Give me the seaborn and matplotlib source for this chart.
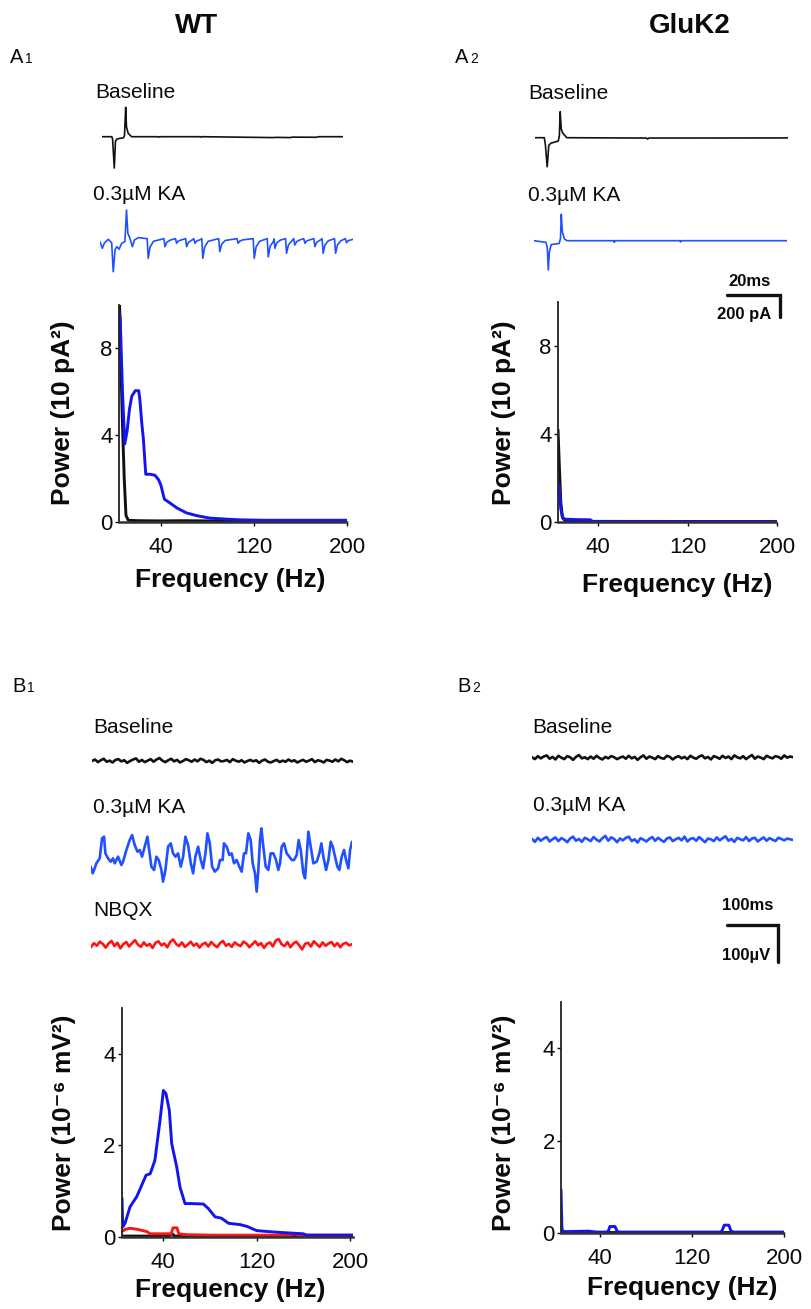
import numpy as np
import matplotlib
matplotlib.use("Agg")
import matplotlib.pyplot as plt
import seaborn as sns

# ---------------------------------------------------------------- data
# A: whole-cell currents (time in ms, current in pA)
a1_base_t = [0, 3.8, 4.1, 4.75, 5.2, 5.8, 8.2, 8.6, 9.05, 9.35, 10.0, 11.3, 21.2, 21.6, 22.0,
             37.0, 37.4, 37.8, 64.6, 66.0, 71.0, 72.0, 81.0, 82.0, 91.0]
a1_base_v = [0, 0, -20, -285, -40, -20, -10, 10, 267, 90, 30, 0, 0, -4, 0,
             0, -4, 0, -8, -6, -8, -4, -5, 0, 0]

a1_ka_t = [0, 0.9, 1.6, 3.1, 4.4, 5.0, 5.7, 6.4, 7.2, 8.2, 9.4, 10.0, 10.5, 11.3, 12.2, 13.0, 14.5,
           17.8, 18.2, 18.9, 20.2,
           24.1, 24.5, 25.2, 26.5,
           28.5, 28.9, 29.6, 30.9,
           32.3, 32.7, 33.4, 34.7,
           35.4, 35.8, 36.5, 37.8,
           38.4, 38.8, 39.5, 40.8,
           44.8, 45.2, 45.9, 47.2,
           51.7, 52.1, 52.8, 54.1,
           57.8, 58.2, 58.9, 60.2,
           63.1, 63.5, 64.2, 65.5,
           65.7, 66.0, 66.7, 68.0,
           70.0, 70.4, 71.1, 72.4,
           73.1, 73.5, 74.2, 75.5,
           76.9, 77.3, 78.0, 79.3,
           80.7, 81.1, 81.8, 83.1,
           83.8, 84.2, 84.9, 86.2,
           88.5, 88.9, 89.6, 90.9,
           92.6, 93.0, 93.7, 95.5]
a1_ka_v = [-22, -82, -36, 0, -31, -295, -91, -67, -91, -36, -21, 266, 55, 9, -67, -6, 15,
           6, -173, -70, -18,
           6, -67, -27, -7,
           6, -36, -15, -4,
           6, -67, -27, -7,
           6, -36, -15, -4,
           6, -173, -70, -18,
           6, -112, -45, -11,
           6, -36, -15, -4,
           6, -173, -70, -18,
           6, -160, -64, -16,
           4, -82, -33, -8,
           6, -127, -51, -13,
           6, -52, -21, -5,
           6, -36, -15, -4,
           6, -67, -27, -7,
           6, -127, -51, -13,
           6, -127, -51, -13,
           6, -31, -12, 0]

a2_base_t = [0, 3.5, 3.9, 4.6, 5.2, 6.0, 8.8, 9.2, 9.5, 9.9, 10.5, 12.0, 30, 42, 42.5, 43, 60, 95.5]
a2_base_v = [0, 0, -60, -264, -70, -50, -30, 20, 236, 80, 40, 0, -2, -3, -12, -3, -3, -2]

a2_ka_t = [0, 4.5, 5.0, 5.4, 5.8, 6.5, 9.5, 10.0, 10.3, 10.7, 11.5, 12.5,
           30, 30.3, 30.6, 55, 55.3, 55.6, 80, 95.5]
a2_ka_v = [0, -15, -60, -266, -100, -35, -25, 20, 240, 80, 15, 0,
           0, -15, 0, 0, -12, 0, 0, 0]

# A: power spectra (Hz, 10 pA^2)
a1_base_f = [4.5, 5.5, 7, 8.5, 10, 12, 20, 40, 60, 80, 100, 200]
a1_base_p = [10, 7.5, 4.5, 2.0, 0.3, 0.08, 0.06, 0.05, 0.06, 0.05, 0.04, 0.03]
a1_ka_f = [4.5, 5, 7, 9, 11, 13, 15, 18, 21, 22, 23.5, 25, 27, 31, 35, 38, 40, 43, 48, 54,
           62, 71, 82, 97, 108, 130, 160, 200]
a1_ka_p = [9.6, 9.4, 6.0, 3.6, 4.2, 5.2, 5.8, 6.05, 6.05, 5.6, 4.6, 3.8, 2.2, 2.2, 2.15, 1.95,
           1.7, 1.05, 0.87, 0.64, 0.42, 0.29, 0.18, 0.13, 0.1, 0.08, 0.08, 0.08]
a2_base_f = [4, 5, 6.5, 8, 10, 20, 200]
a2_base_p = [4.2, 2.8, 0.9, 0.2, 0.08, 0.03, 0.02]
a2_ka_f = [4, 5, 6.5, 8, 10, 20, 33, 35, 50, 100, 200]
a2_ka_p = [1.8, 1.6, 0.6, 0.22, 0.13, 0.11, 0.1, 0.02, 0.01, 0.01, 0.01]

# B: field potentials (time in ms, voltage in uV)
b1_ka_t = [0, 3.9, 7.8, 11.1, 17.7, 22.2, 26.2, 28.8, 34.0, 39.2, 43.8, 47.1, 53.6, 60.2, 63.4,
           70.0, 76.5, 81.1, 86.3, 91.6, 96.1, 100.7, 105.9, 111.2, 113.8, 119.0, 124.3, 128.8,
           133.4, 138.6, 141.9, 146.5, 151.7, 157.0, 161.5, 166.1, 171.3, 176.6, 181.2, 185.7,
           191.0, 196.2, 200.8, 205.3, 210.6, 215.8, 220.4, 225.0, 228.9, 233.5, 238.1, 243.3,
           249.8, 253.5, 258.7, 261.3, 266.6, 271.8, 276.4, 281.0, 286.2, 291.4, 296.0, 300.6,
           304.5, 309.1, 313.7, 317.6, 322.2, 325.4, 328.7, 332.0, 334.6, 338.5, 343.1, 348.3,
           352.9, 358.1, 363.4, 367.9, 371.2, 374.5, 379.1, 384.3, 389.5, 394.1, 398.7, 403.9,
           407.8, 411.8, 417.0, 420.3, 423.5, 426.8, 431.4, 436.6, 443.2, 448.4, 452.3, 456.2,
           461.5, 466.1, 470.6, 474.6, 479.1, 483.7, 487.6, 492.2, 496.8, 500.7, 505.3, 508.6,
           512.5]
b1_ka_v = [-18, -36, -22.5, -9, 4.5, 58.5, 63, 18, 4.5, -4.5, 4.5, -9, 9, -13.5, -4.5,
           27, 54, 67.5, 40.5, 22.5, 27, 9, 36, 63, 36, -18, -27, 9,
           0, -27, -58.5, -27, 36, 45, 18, 9, 18, -18, 9, 63,
           40.5, -9, -36, 9, 36, 0, -22.5, 18, 72, 45, -18, -31.5,
           -22.5, 0, 0, 45, 36, 13.5, 18, -9, 0, -18, -31.5, 18,
           18, 72, 54, -9, -36, -85.5, -27, 54, 85.5, 36, -18, -27,
           18, 18, 0, -27, -9, 36, 45, 18, 9, 0, 0, 13.5,
           54, 27, -36, -49.5, 9, 76.5, 36, -9, -4.5, 18, 45, 9,
           -27, 0, 49.5, 36, 9, -18, -27, 9, 27, 0, -22.5, 27,
           49.5]

b_step = 5.75  # ms between samples of the noise traces
b1_base_v = [0, 4, -3, 2, 6, -2, 1, -4, 3, 5, -1, 2, -5, 0, 4, 7, -2, 3, -3, 1, 5, -2, 4, 8, 1,
             -3, 2, 6, -1, 3, -4, 0, 5, 2, -2, 4, -1, 6, 3, -3, 1, -5, 2, 4, -1, 0, 3, -3, 5, 1,
             -2, 2, -4, 0, 3, -1, 2, -5, 1, 4, -2, -4, 0, 3, -3, 1, -2, 4, -1, 2, -4, 0, 3, -2,
             1, 5, -3, 2, 0, -4, 3, 1, -2, 4, -1, 6, 2, -3, 1, -2]
b1_nbqx_v = [-6, 5, -2, 9, 3, -7, 4, 11, -3, 6, -9, 2, 8, -4, 5, 13, 1, -5, 7, -2, 3, -8, 6, 10,
             -1, 4, -6, 8, 15, 3, -3, 7, -5, 1, 9, -2, 4, -7, 2, 6, -4, 8, 0, -6, 5, 11, -2, 3,
             -5, 7, 1, -3, 9, 4, -6, 2, 10, -1, 5, -8, 3, 7, -4, 12, 16, 2, -3, 8, -6, 4, 9, -1,
             -12, 3, 6, -4, 10, 2, -5, 7, -2, 4, 8, -3, 5, -6, 3, 6, -1, 2]
b2_base_v = [2, -3, 5, -1, 4, 7, -2, 3, -4, 6, 1, -3, 5, 2, -5, 3, 8, -1, 2, -3, 4, -2, 6, 0, -4,
             3, -1, 5, 2, -3, 1, 4, -2, 6, -1, 3, -5, 2, 7, -2, 4, 1, -3, 5, 0, -2, 6, 3, -4, 2,
             5, -1, 3, -3, 6, 1, -2, 4, 7, -1, 3, -4, 5, 2, -2, 6, 0, 4, -3, 7, 2, -1, 5, -3, 3,
             8, -2, 4, 1, -3, 6, 2, -1, 5, 3, -2, 7, 1, 4, 2]
b2_ka_v = [3, -5, 6, -2, 4, 8, -4, 2, 7, -3, 5, 1, -6, 4, 9, -2, 3, -5, 6, 2, -3, 8, 1, -4, 5, 11,
           -2, 7, 3, -6, 4, -1, 6, 9, -3, 2, -7, 5, 1, -4, 3, 8, -2, 6, 0, -5, 4, 7, -3, 2, 6,
           -1, 9, -4, 3, 5, -2, 8, 1, -6, 4, 2, -3, 7, -1, 5, 10, -2, 3, -5, 6, 2, -1, 8, -3, 4,
           6, -4, 2, 7, -2, 5, 1, -3, 6, 3, -1, 4, 2, 0]

# B: power spectra (Hz, 10^-6 mV^2)
b1_base_f = [4.9, 30, 45, 47.5, 50, 83, 202]
b1_base_p = [0.02, 0.02, 0.02, 0.08, 0.02, 0.02, 0.02]
b1_ka_f = [4.9, 5.5, 7.5, 11.8, 17.5, 25.5, 29, 33, 37.4, 40.3, 42.5, 45.4, 47.4, 51.7, 54.5,
           58.8, 64, 74.5, 78.8, 84.5, 90, 96, 106, 112, 120, 129, 140, 160, 163, 202]
b1_ka_p = [0.85, 0.22, 0.3, 0.66, 0.88, 1.35, 1.38, 1.67, 2.54, 3.2, 3.13, 2.76, 2.04, 1.53, 1.09,
           0.73, 0.73, 0.72, 0.62, 0.44, 0.41, 0.3, 0.27, 0.23, 0.14, 0.12, 0.1, 0.07, 0.04, 0.04]
b1_nbqx_f = [4.9, 8, 11.8, 17.5, 26, 29, 47, 48.5, 52, 53.5, 60, 83, 148, 152, 156, 202]
b1_nbqx_p = [0.12, 0.17, 0.19, 0.17, 0.12, 0.07, 0.07, 0.2, 0.2, 0.07, 0.05, 0.04, 0.04, 0.07,
             0.04, 0.04]
b2_base_f = [6, 7, 10, 200]
b2_base_p = [0.3, 0.02, 0.01, 0.01]
b2_ka_f = [6, 6.8, 10, 30, 37, 45, 47, 48.5, 53, 55, 57, 100, 144, 146, 148, 152, 154, 156, 200]
b2_ka_p = [0.94, 0.04, 0.03, 0.04, 0.02, 0.02, 0.03, 0.14, 0.14, 0.03, 0.02, 0.02, 0.02, 0.04,
           0.17, 0.17, 0.04, 0.02, 0.02]

freq_ticks = [40, 120, 200]

# ---------------------------------------------------------------- style
sns.set_style("ticks")
plt.rcParams['font.family'] = ['Liberation Sans', 'DejaVu Sans']
plt.rcParams['text.color'] = "#0a0a0a"
plt.rcParams['axes.labelcolor'] = "#0a0a0a"
plt.rcParams['xtick.color'] = "#0a0a0a"
plt.rcParams['ytick.color'] = "#0a0a0a"

BLACK = "#111111"
BLUE_SPEC = "#1414f0"
BLUE_TRACE = "#2050ff"
RED = "#ff1414"

W, H = 811, 1309
fig = plt.figure(figsize=(W / 100, H / 100), dpi=100)


def fx(x):
    return x / W


def fy(y):
    return 1 - y / H


def box(l, t, r, b):
    return [l / W, 1 - b / H, (r - l) / W, (b - t) / H]


def trace_axes(x0, y0, t, v, px_t, px_v, color, lw):
    """Axes for one trace: x0/y0 are the pixel position of (t=0, v=0)."""
    t_max = max(t)
    v_lo, v_hi = min(v) - 15, max(v) + 15
    left, right = x0, x0 + t_max * px_t
    top, bottom = y0 - v_hi * px_v, y0 - v_lo * px_v
    ax = fig.add_axes(box(left, top, right, bottom))
    ax.patch.set_visible(False)
    sns.lineplot(x=t, y=v, ax=ax, color=color, linewidth=lw, estimator=None, sort=False)
    ax.set_xlim(0, t_max)
    ax.set_ylim(v_lo, v_hi)
    ax.set_axis_off()
    return ax


def spectrum_axes(l, t, r, b, xlim, ylim, yticks, series, ylabel, xlab_xy, ylab_xy):
    ax = fig.add_axes(box(l, t, r, b))
    ax.patch.set_visible(False)
    for f, p, c in series:
        sns.lineplot(x=f, y=p, ax=ax, color=c, linewidth=2.1, estimator=None, sort=False)
    ax.set_xlim(*xlim)
    ax.set_ylim(*ylim)
    ax.set_xticks(freq_ticks)
    ax.set_yticks(yticks)
    sns.despine(ax=ax)
    ax.spines['left'].set_color("#222222")
    ax.spines['left'].set_linewidth(1.3)
    ax.spines['bottom'].set_color("#333333")
    ax.spines['bottom'].set_linewidth(1.8)
    ax.spines['bottom'].set_linestyle((0, (1, 1)))
    ax.tick_params(axis='x', length=3, width=1, pad=8, labelsize=16)
    ax.tick_params(axis='y', length=3, width=1, pad=1.5, labelsize=16)
    ax.set_xlabel("Frequency (Hz)", fontsize=19, fontweight='bold')
    ax.set_ylabel(ylabel, fontsize=19, fontweight='bold')
    ax.xaxis.label.set_va('center')
    ax.yaxis.label.set_va('center')
    ax.xaxis.set_label_coords((xlab_xy[0] - l) / (r - l), (b - xlab_xy[1]) / (b - t))
    ax.yaxis.set_label_coords((ylab_xy[0] - l) / (r - l), (b - ylab_xy[1]) / (b - t))
    return ax


def label(x, y, s, size=15, weight='normal', ha='left'):
    fig.text(fx(x), fy(y), s, fontsize=size, fontweight=weight, ha=ha, va='baseline')


def panel_tag(x, y, letter, num):
    fig.text(fx(x), fy(y), letter, fontsize=14.5, va='baseline')
    fig.text(fx(x + 15), fy(y), num, fontsize=10, va='baseline')


# ---------------------------------------------------------------- titles
label(197, 33, "WT", size=20, weight='bold', ha='center')
label(690, 33, "GluK2", size=20, weight='bold', ha='center')
panel_tag(10, 63, "A", "1")
panel_tag(455, 63, "A", "2")
panel_tag(12, 692, "B", "1")
panel_tag(457, 692, "B", "2")

# ---------------------------------------------------------------- A traces
A_PX_T, A_PX_V = 2.65, 0.11
label(95, 98, "Baseline")
trace_axes(101.7, 136.7, a1_base_t, a1_base_v, A_PX_T, A_PX_V, BLACK, 1.2)
label(93, 200, "0.3µM KA")
trace_axes(100, 239.3, a1_ka_t, a1_ka_v, A_PX_T, A_PX_V, BLUE_TRACE, 1.2)

label(528, 99, "Baseline")
trace_axes(535, 137.7, a2_base_t, a2_base_v, A_PX_T, A_PX_V, BLACK, 1.2)
label(528, 201, "0.3µM KA")
ax_a2ka = trace_axes(534, 240.7, a2_ka_t, a2_ka_v, A_PX_T, A_PX_V, BLUE_TRACE, 1.2)

# scale bar: 20 ms / 200 pA
ax_a2ka.plot([72.8, 92.8, 92.8], [-494, -494, -694], color="#111111", lw=2.4,
             clip_on=False, solid_joinstyle='miter')
ax_a2ka.text(81.5, -410, "20ms", fontsize=12, fontweight='bold', ha='center', va='baseline')
ax_a2ka.text(89.5, -715, "200 pA", fontsize=12, fontweight='bold', ha='right', va='baseline')

# ---------------------------------------------------------------- A spectra
spectrum_axes(119, 305, 347, 522, (4, 200), (0, 10), [0, 4, 8],
              [(a1_base_f, a1_base_p, BLACK), (a1_ka_f, a1_ka_p, BLUE_SPEC)],
              "Power (10 pA²)", (230, 580), (63, 413))
spectrum_axes(558, 302, 777, 522, (4, 200), (0, 10), [0, 4, 8],
              [(a2_base_f, a2_base_p, BLACK), (a2_ka_f, a2_ka_p, BLUE_SPEC)],
              "Power (10 pA²)", (677, 585), (504, 413))

# ---------------------------------------------------------------- B traces
B_PX_T, B_PX_V = 0.51, 0.37
b_t = [i * b_step for i in range(len(b1_base_v))]

label(93, 733, "Baseline")
trace_axes(92, 761, b_t, b1_base_v, B_PX_T, B_PX_V, BLACK, 1.9)
label(93, 813, "0.3µM KA")
trace_axes(90.7, 860, b1_ka_t, b1_ka_v, B_PX_T, B_PX_V, BLUE_TRACE, 1.9)
label(93, 916, "NBQX")
trace_axes(91, 945, b_t, b1_nbqx_v, B_PX_T, B_PX_V, RED, 1.9)

label(532, 733, "Baseline")
trace_axes(532, 758, b_t, b2_base_v, B_PX_T, B_PX_V, BLACK, 1.9)
label(533, 811, "0.3µM KA")
ax_b2ka = trace_axes(532, 840, b_t, b2_ka_v, B_PX_T, B_PX_V, BLUE_TRACE, 1.9)

# scale bar: 100 ms / 100 uV
ax_b2ka.plot([382, 482, 482], [-230, -230, -330], color="#111111", lw=2.4,
             clip_on=False, solid_joinstyle='miter')
ax_b2ka.text(423, -189, "100ms", fontsize=12, fontweight='bold', ha='center', va='baseline')
ax_b2ka.text(467, -324, "100µV", fontsize=12, fontweight='bold', ha='right', va='baseline')

# ---------------------------------------------------------------- B spectra
spectrum_axes(122, 1008, 353, 1237, (4.9, 202.5), (0, 5), [0, 2, 4],
              [(b1_base_f, b1_base_p, BLACK), (b1_nbqx_f, b1_nbqx_p, RED),
               (b1_ka_f, b1_ka_p, BLUE_SPEC)],
              "Power (10⁻⁶ mV²)", (230, 1290), (64, 1123))
spectrum_axes(561, 1002, 784, 1233, (6, 200), (0, 5), [0, 2, 4],
              [(b2_base_f, b2_base_p, BLACK), (b2_ka_f, b2_ka_p, BLUE_SPEC)],
              "Power (10⁻⁶ mV²)", (682, 1288), (504, 1123))

fig.savefig("out.png", dpi=100, facecolor="white")
